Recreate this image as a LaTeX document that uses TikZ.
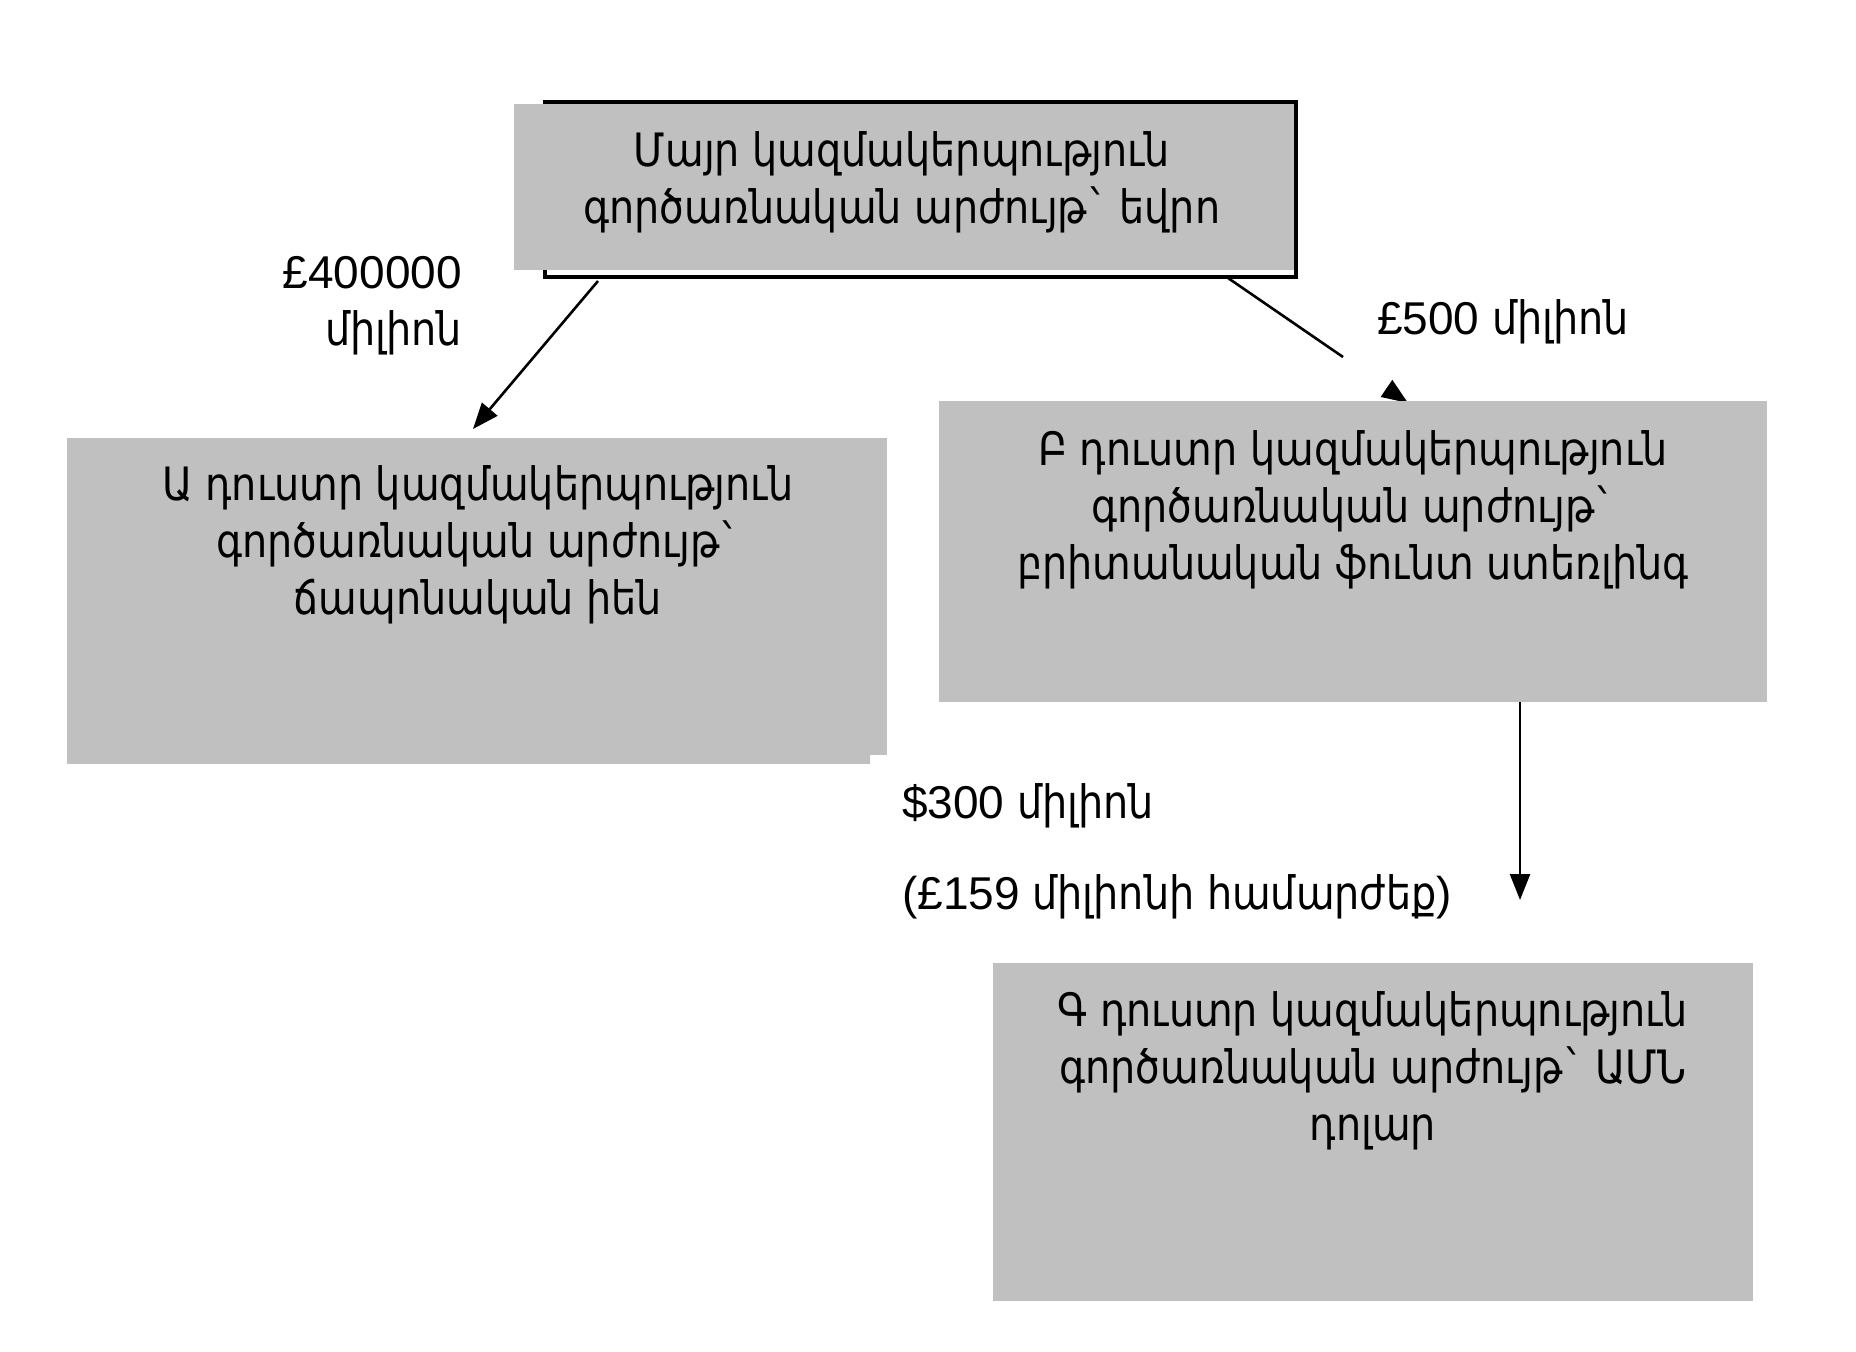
\documentclass[tikz,border=0pt]{standalone}
\usepackage{fontspec}
\setmainfont{Liberation Sans}
\newfontfamily\arm[FakeStretch=0.96]{DejaVu Sans Condensed}
\usetikzlibrary{arrows.meta}
\definecolor{boxgrey}{RGB}{192,192,192}
\pgfdeclarelayer{bg}
\pgfsetlayers{bg,main}
\begin{document}
\begin{tikzpicture}[x=1pt,y=-1pt,
  box/.style={fill=boxgrey, draw=none, inner sep=0pt, outer sep=0pt, anchor=north west},
  lbl/.style={font=\fontsize{46}{57}\selectfont, inner sep=0pt, align=center},
  conn/.style={line width=2.6pt, -{Triangle[length=26pt,width=20pt]}},
  plain/.style={line width=2.6pt}]
\useasboundingbox (0,0) rectangle (1856,1352);

% top box
\node[draw, line width=4pt, inner sep=0pt, outer sep=0pt, anchor=north west,
      minimum width=751pt, minimum height=175pt] (topframe) at (545,102) {};
\node[box, minimum width=780pt, minimum height=166pt] (top) at (514,104) {};
\node[lbl] (toptext) at (902,182) {\arm Մայր կազմակերպություն\\\arm գործառնական արժույթ` եվրո};

% box A
\node[box, minimum width=820pt, minimum height=317pt] (boxA) at (67,438) {};
\fill[boxgrey] (boxA.south west) rectangle ++(803,9);
\node[lbl] (textA) at (478,545) {\arm Ա դուստր կազմակերպություն\\\arm գործառնական արժույթ`\\\arm ճապոնական իեն};

% box B
\node[box, minimum width=828pt, minimum height=301pt] (boxB) at (939,401) {};
\node[lbl] (textB) at (1353,510) {\arm Բ դուստր կազմակերպություն\\\arm գործառնական արժույթ`\\\arm բրիտանական ֆունտ ստեռլինգ};

% box C
\node[box, minimum width=760pt, minimum height=338pt] (boxC) at (993,963) {};
\node[lbl] (textC) at (1373,1071) {\arm Գ դուստր կազմակերպություն\\\arm գործառնական արժույթ` ԱՄՆ\\\arm դոլար};

% labels
\node[lbl, align=right, anchor=east] (l400) at (462,306) {£400000\\{\arm միլիոն}};
\node[lbl, anchor=west] (l500) at (1377,322) {£500 {\arm միլիոն}};
\node[lbl, anchor=west] (l300) at (902,806) {\$300 {\arm միլիոն}};
\node[lbl, anchor=west] (l159) at (902,897) {(£159 {\arm միլիոնի համարժեք})};

% connectors
\coordinate (a1) at (598,281);
\coordinate (a2) at (473,429);
\coordinate (b1) at (1228,278);
\coordinate (b2) at (1343,357);
\coordinate (b3) at (1386.5,388.4);
\coordinate (b4) at (1408,403);
\coordinate (c1) at (1520,702);
\coordinate (c2) at (1520,900);
\begin{pgfonlayer}{bg}
\draw[conn] (a1) -- (a2);
\draw[plain] (b1) -- (b2);
\draw[conn] (b3) -- (b4);
\draw[conn] (c1) -- (c2);
\end{pgfonlayer}
\end{tikzpicture}
\end{document}
